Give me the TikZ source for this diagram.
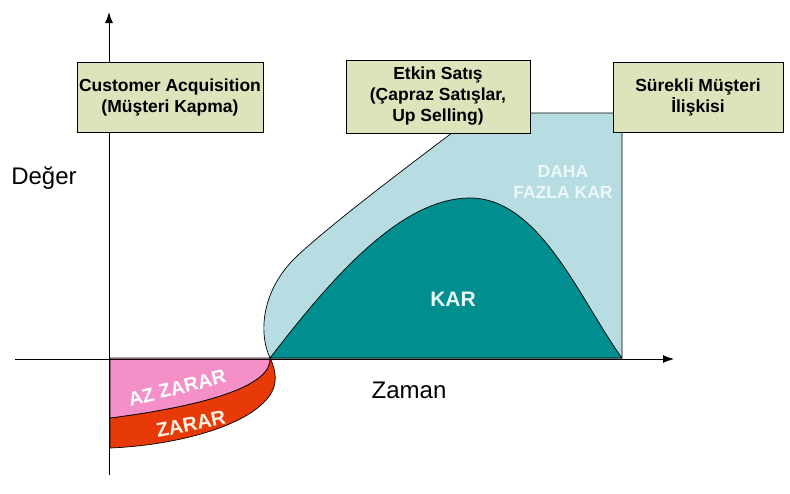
\documentclass[tikz,border=0pt]{standalone}
\usepackage{fontspec}
\setmainfont{Liberation Sans}
\usetikzlibrary{arrows.meta}

\definecolor{boxfill}{RGB}{221,228,188}
\definecolor{lightprofit}{RGB}{183,221,227}
\definecolor{profit}{RGB}{0,142,142}
\definecolor{smallloss}{RGB}{244,143,200}
\definecolor{loss}{RGB}{232,58,8}
\definecolor{paletext}{RGB}{236,248,248}
\definecolor{creamtext}{RGB}{255,242,225}

\tikzset{
  phasebox/.style={draw=black, line width=0.9pt, fill=boxfill, align=center,
    font=\fontsize{17.5}{21}\selectfont\bfseries, inner sep=0pt},
  axis/.style={line width=1pt, -{Latex[length=11pt,width=8pt]}},
  region/.style={draw=black, line width=0.7pt},
  axislabel/.style={font=\fontsize{24}{28}\selectfont},
  arealabel/.style={align=center, inner sep=0pt},
}

\begin{document}
\begin{tikzpicture}[x=1pt,y=-1pt]
\useasboundingbox (0,0) rectangle (790,493);

% upper profit area (extra profit)
\draw[region, fill=lightprofit]
  (270,358) .. controls (258,332) and (262,290) .. (296,257)
  .. controls (340,216) and (430,150) .. (478,113)
  -- (622,113) -- (622,358) -- cycle;

% profit hump
\draw[region, fill=profit]
  (270,358) .. controls (330,280) and (400,198) .. (470,198)
  .. controls (540,198) and (580,300) .. (622,358) -- cycle;

% loss band
\draw[region, fill=loss]
  (110,418) .. controls (210,405) and (272,385) .. (270,358)
  .. controls (277,372) and (277,385) .. (270,395)
  .. controls (250,425) and (180,445) .. (110,448) -- cycle;

% small loss band
\draw[region, fill=smallloss]
  (110,358) -- (270,358)
  .. controls (272,385) and (210,405) .. (110,418) -- cycle;

% axes
\coordinate (yfoot) at (109,475);
\coordinate (ytip) at (109,12);
\coordinate (xfoot) at (15,359);
\coordinate (xtip) at (674,359);
\draw[axis] (yfoot) -- (ytip);
\draw[axis] (xfoot) -- (xtip);

% phase boxes
\node[phasebox, minimum width=186pt, minimum height=70pt] (acq) at (170,97)
  {Customer Acquisition\\(Müşteri Kapma)};
\node[phasebox, minimum width=184pt, minimum height=73pt] (sale) at (438,96.5)
  {Etkin Satış\\(Çapraz Satışlar,\\Up Selling)};
\node[phasebox, minimum width=170pt, minimum height=70pt] (rel) at (698,97)
  {Sürekli Müşteri\\İlişkisi};

% axis labels
\node[axislabel] (value) at (44,178) {Değer};
\node[axislabel] (time) at (409,390) {Zaman};

% area labels
\node[arealabel, text=paletext, font=\fontsize{21}{24}\selectfont\bfseries] (kar) at (453,299) {KAR};
\node[arealabel, text=paletext, font=\fontsize{17.5}{21}\selectfont\bfseries] (more) at (563,182)
  {DAHA\\FAZLA KAR};
\node[arealabel, text=white, rotate=14, font=\fontsize{19.5}{22}\selectfont\bfseries] (azzarar) at (177,388) {AZ ZARAR};
\node[arealabel, text=creamtext, rotate=11, font=\fontsize{20}{22}\selectfont\bfseries] (zarar) at (191,424) {ZARAR};
\end{tikzpicture}
\end{document}
